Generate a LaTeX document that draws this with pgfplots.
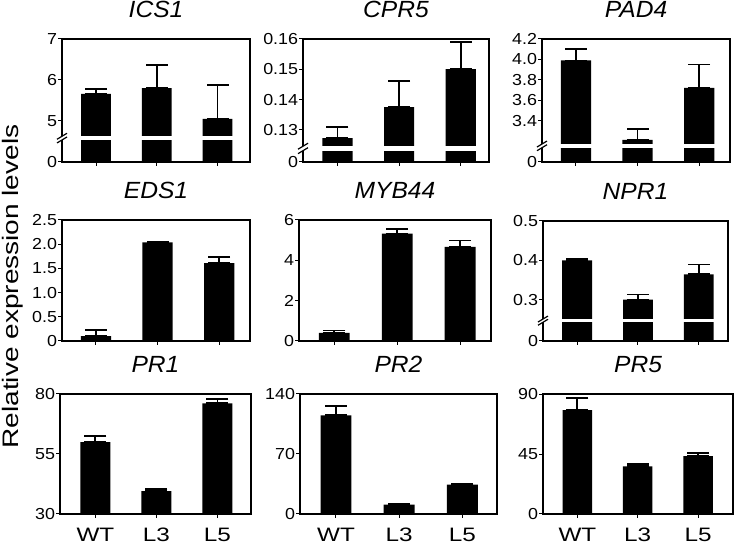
\documentclass[border=0pt]{standalone}
\usepackage{fontspec}
\setmainfont{Liberation Sans}
\usepackage{graphicx}
\usepackage{pgfplots}
\pgfplotsset{compat=1.18}
\newcommand\tk[1]{\scalebox{1.12}[1]{#1}}
\newcommand\xl[1]{\scalebox{1.25}[1]{#1}}
\newcommand\ti[1]{\scalebox{1.05}[1]{#1}}
\pgfplotsset{
 pan/.style={
   scale only axis, anchor=south west,
   tick align=outside, xtick pos=left, ytick pos=left,
   xtick={0,1,2}, xticklabels={,,},
   major tick length=4bp,
   tick style={black, line width=1bp},
   axis line style={line width=1.6bp},
   yticklabel style={font=\fontsize{16}{16}\selectfont, inner sep=0.8bp},
   xticklabel style={font=\fontsize{19.5}{19.5}\selectfont, anchor=north, inner sep=0pt, yshift=-10bp},
   title style={font=\fontsize{23.5}{23.5}\selectfont\itshape, at={(0.5,1)}, anchor=base, yshift=16bp},
 },
 blk/.style={ybar, fill=black, draw=none, bar width=0.49},
 eb/.style={black, line width=1.8bp, mark=-, mark size=11bp},
 bottomrow/.style={xticklabels={\xl{WT},\xl{L3},\xl{L5}}},
}
\begin{document}
\begin{tikzpicture}[x=1bp,y=1bp]
\useasboundingbox (0,0) rectangle (735,546);
\node[rotate=90, anchor=base, font=\fontsize{22.5}{22.5}\selectfont, inner sep=0pt] at (18.5,259.5) {\scalebox{1.25}[1]{Relative expression levels}};

% ---------- ICS1 ----------
\begin{axis}[pan, at={(62bp,384bp)}, width=188bp, height=123bp,
  xmin=-0.56, xmax=2.535, ymin=0, ymax=7,
  y coord trafo/.code={\pgfmathparse{#1<1 ? #1 : 41*(#1-4)}},
  ytick={0,5,6,7}, yticklabels={\tk{0},\tk{5},\tk{6},\tk{7}},
  title={\ti{ICS1}}]
\addplot[blk] coordinates {(0,5.66) (1,5.80) (2,5.05)};
\addplot[eb] coordinates {(0,5.66) (0,5.78)};
\addplot[eb] coordinates {(1,5.80) (1,6.37)};
\addplot[eb] coordinates {(2,5.05) (2,5.88)};
\coordinate (a1) at (rel axis cs:-0.035,0.179);
\coordinate (a2) at (rel axis cs:0.96,0.209);
\coordinate (b1) at (rel axis cs:0,0.179);
\coordinate (b2) at (rel axis cs:0,0.209);
\end{axis}
\fill[white] (a1) rectangle (a2);
\draw[line width=1.2bp] ([xshift=-5bp,yshift=-3bp]b1) -- ([xshift=5bp,yshift=3bp]b1);
\draw[line width=1.2bp] ([xshift=-5bp,yshift=-3bp]b2) -- ([xshift=5bp,yshift=3bp]b2);

% ---------- CPR5 ----------
\begin{axis}[pan, at={(303bp,384bp)}, width=186bp, height=123bp,
  xmin=-0.56, xmax=2.46, ymin=0, ymax=0.16,
  y coord trafo/.code={\pgfmathparse{#1<0.1 ? #1 : 3033.3*#1-362.3}},
  ytick={0,0.13,0.14,0.15,0.16}, yticklabels={\tk{0},\tk{0.13},\tk{0.14},\tk{0.15},\tk{0.16}},
  title={\ti{CPR5}}]
\addplot[blk] coordinates {(0,0.1273) (1,0.1375) (2,0.1501)};
\addplot[eb] coordinates {(0,0.1273) (0,0.1309)};
\addplot[eb] coordinates {(1,0.1375) (1,0.1462)};
\addplot[eb] coordinates {(2,0.1501) (2,0.1591)};
\coordinate (a1) at (rel axis cs:-0.035,0.092);
\coordinate (a2) at (rel axis cs:0.96,0.128);
\coordinate (b1) at (rel axis cs:0,0.092);
\coordinate (b2) at (rel axis cs:0,0.128);
\end{axis}
\fill[white] (a1) rectangle (a2);
\draw[line width=1.2bp] ([xshift=-5bp,yshift=-3bp]b1) -- ([xshift=5bp,yshift=3bp]b1);
\draw[line width=1.2bp] ([xshift=-5bp,yshift=-3bp]b2) -- ([xshift=5bp,yshift=3bp]b2);

% ---------- PAD4 ----------
\begin{axis}[pan, at={(542bp,384bp)}, width=188bp, height=123bp,
  xmin=-0.55, xmax=2.50, ymin=0, ymax=4.2,
  y coord trafo/.code={\pgfmathparse{#1<1 ? #1 : 102*#1-305.4}},
  ytick={0,3.4,3.6,3.8,4.0,4.2}, yticklabels={\tk{0},\tk{3.4},\tk{3.6},\tk{3.8},\tk{4.0},\tk{4.2}},
  title={\ti{PAD4}}]
\addplot[blk] coordinates {(0,3.99) (1,3.21) (2,3.72)};
\addplot[eb] coordinates {(0,3.99) (0,4.10)};
\addplot[eb] coordinates {(1,3.21) (1,3.32)};
\addplot[eb] coordinates {(2,3.72) (2,3.95)};
\coordinate (a1) at (rel axis cs:-0.035,0.116);
\coordinate (a2) at (rel axis cs:0.96,0.146);
\coordinate (b1) at (rel axis cs:0,0.116);
\coordinate (b2) at (rel axis cs:0,0.146);
\end{axis}
\fill[white] (a1) rectangle (a2);
\draw[line width=1.2bp] ([xshift=-5bp,yshift=-3bp]b1) -- ([xshift=5bp,yshift=3bp]b1);
\draw[line width=1.2bp] ([xshift=-5bp,yshift=-3bp]b2) -- ([xshift=5bp,yshift=3bp]b2);

% ---------- EDS1 ----------
\begin{axis}[pan, at={(62bp,205bp)}, width=188bp, height=121bp,
  xmin=-0.55, xmax=2.50, ymin=0, ymax=2.5,
  ytick={0,0.5,1,1.5,2,2.5}, yticklabels={\tk{0},\tk{0.5},\tk{1.0},\tk{1.5},\tk{2.0},\tk{2.5}},
  title={\ti{EDS1}}]
\addplot[blk] coordinates {(0,0.10) (1,2.04) (2,1.61)};
\addplot[eb] coordinates {(0,0.10) (0,0.22)};
\addplot[eb] coordinates {(1,2.04) (1,2.05)};
\addplot[eb] coordinates {(2,1.61) (2,1.73)};
\end{axis}

% ---------- MYB44 ----------
\begin{axis}[pan, at={(299bp,205bp)}, width=192bp, height=121bp,
  xmin=-0.56, xmax=2.49, ymin=0, ymax=6,
  ytick={0,2,4,6}, yticklabels={\tk{0},\tk{2},\tk{4},\tk{6}},
  title={\ti{MYB44}}]
\addplot[blk] coordinates {(0,0.40) (1,5.33) (2,4.67)};
\addplot[eb] coordinates {(0,0.40) (0,0.52)};
\addplot[eb] coordinates {(1,5.33) (1,5.57)};
\addplot[eb] coordinates {(2,4.67) (2,4.98)};
\end{axis}

% ---------- NPR1 ----------
\begin{axis}[pan, at={(543bp,205bp)}, width=185bp, height=120bp,
  xmin=-0.56, xmax=2.48, ymin=0, ymax=0.5,
  y coord trafo/.code={\pgfmathparse{#1<0.1 ? #1 : 395*#1-77.5}},
  ytick={0,0.3,0.4,0.5}, yticklabels={\tk{0},\tk{0.3},\tk{0.4},\tk{0.5}},
  title={\ti{NPR1}}]
\addplot[blk] coordinates {(0,0.400) (1,0.301) (2,0.365)};
\addplot[eb] coordinates {(0,0.400) (0,0.403)};
\addplot[eb] coordinates {(1,0.301) (1,0.314)};
\addplot[eb] coordinates {(2,0.365) (2,0.390)};
\coordinate (a1) at (rel axis cs:-0.035,0.156);
\coordinate (a2) at (rel axis cs:0.96,0.183);
\coordinate (b1) at (rel axis cs:0,0.156);
\coordinate (b2) at (rel axis cs:0,0.183);
\end{axis}
\fill[white] (a1) rectangle (a2);
\draw[line width=1.2bp] ([xshift=-5bp,yshift=-3bp]b1) -- ([xshift=5bp,yshift=3bp]b1);
\draw[line width=1.2bp] ([xshift=-5bp,yshift=-3bp]b2) -- ([xshift=5bp,yshift=3bp]b2);

% ---------- PR1 ----------
\begin{axis}[pan, bottomrow, at={(60bp,32bp)}, width=191bp, height=120bp,
  xmin=-0.58, xmax=2.55, ymin=30, ymax=80,
  ytick={30,55,80}, yticklabels={\tk{30},\tk{55},\tk{80}},
  title={\ti{PR1}}]
\addplot[blk] coordinates {(0,59.9) (1,39.5) (2,76.1)};
\addplot[eb] coordinates {(0,59.9) (0,62.5)};
\addplot[eb] coordinates {(1,39.5) (1,40.5)};
\addplot[eb] coordinates {(2,76.1) (2,77.9)};
\end{axis}

% ---------- PR2 ----------
\begin{axis}[pan, bottomrow, at={(300bp,32bp)}, width=197bp, height=120bp,
  xmin=-0.57, xmax=2.55, ymin=0, ymax=140,
  ytick={0,70,140}, yticklabels={\tk{0},\tk{70},\tk{140}},
  title={\ti{PR2}}]
\addplot[blk] coordinates {(0,115.1) (1,10.8) (2,34.2)};
\addplot[eb] coordinates {(0,115.1) (0,126.4)};
\addplot[eb] coordinates {(1,10.8) (1,11.2)};
\addplot[eb] coordinates {(2,34.2) (2,35.3)};
\end{axis}

% ---------- PR5 ----------
\begin{axis}[pan, bottomrow, at={(543bp,32bp)}, width=190bp, height=120bp,
  xmin=-0.57, xmax=2.58, ymin=0, ymax=90,
  ytick={0,45,90}, yticklabels={\tk{0},\tk{45},\tk{90}},
  title={\ti{PR5}}]
\addplot[blk] coordinates {(0,78.0) (1,35.8) (2,43.5)};
\addplot[eb] coordinates {(0,78.0) (0,86.8)};
\addplot[eb] coordinates {(1,35.8) (1,37.7)};
\addplot[eb] coordinates {(2,43.5) (2,45.7)};
\end{axis}
\end{tikzpicture}
\end{document}
